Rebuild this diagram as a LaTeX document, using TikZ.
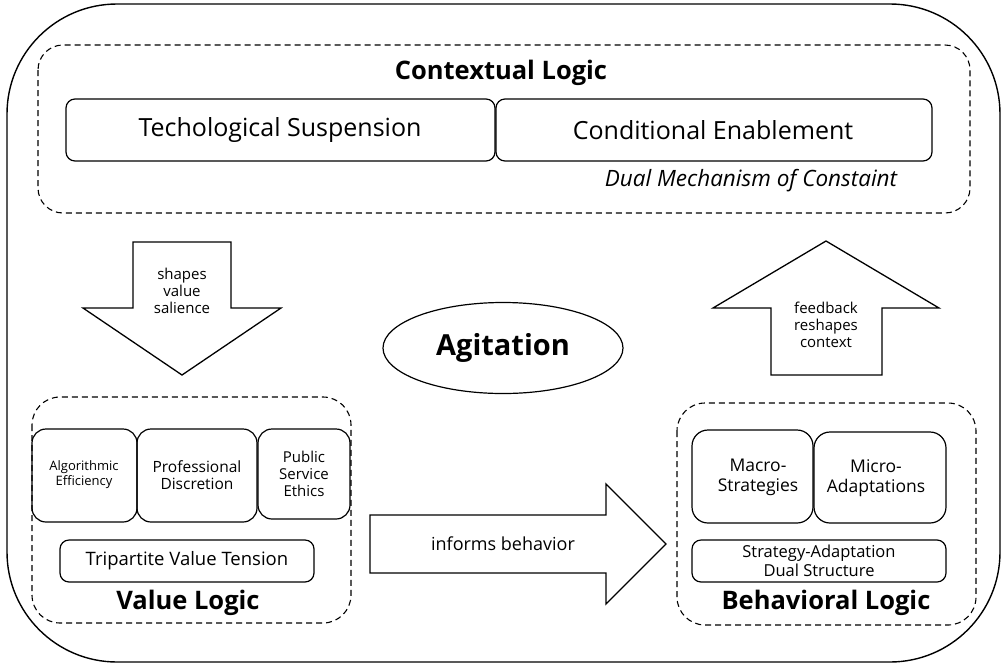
\documentclass[tikz,border=0pt]{standalone}
\usepackage{fontspec}
\setmainfont{Open Sans}
\usetikzlibrary{shapes.geometric}
\begin{document}
\begin{tikzpicture}[x=1pt,y=-1pt,
  box/.style={draw,line width=1.2pt,rounded corners=9pt},
  grp/.style={draw,line width=1.1pt,dash pattern=on 6pt off 4pt,rounded corners=28pt},
  bigarrow/.style={draw,line width=1.3pt,fill=white,line join=miter},
  lbl/.style={align=center,inner sep=0pt,font=\fontsize{15}{17}\selectfont}
]
\useasboundingbox (0,0) rectangle (1001,665);
% outer
\draw[line width=1.4pt,rounded corners=110pt] (7,4) rectangle (1000,662);
% contextual group
\draw[grp,rounded corners=25pt] (38,45) rectangle (970,213);
\node[font=\fontsize{25.5}{30}\selectfont\bfseries] (ctx) at (501,73) {Contextual Logic};
\draw[box] (66,99) rectangle (495,161);
\node[font=\fontsize{25}{30}\selectfont] (tech) at (280,130) {Techological Suspension};
\draw[box] (496,99) rectangle (932,161);
\node[font=\fontsize{25}{30}\selectfont] (cond) at (713,130) {Conditional Enablement};
\node[font=\fontsize{22.5}{27}\selectfont\itshape] (dual) at (751,181) {Dual Mechanism of Constaint};
% down arrow
\draw[bigarrow] (133,242) -- (231,242) -- (231,308) -- (281,308) -- (182,375) -- (83,308) -- (133,308) -- cycle;
\node[lbl] (shapes) at (182,291) {shapes\\value\\salience};
% agitation
\node[draw,ellipse,line width=1.2pt,minimum width=240pt,minimum height=91pt,font=\fontsize{29}{34}\selectfont\bfseries] (agit) at (503,348) {Agitation};
% up arrow
\draw[bigarrow] (771,375) -- (882,375) -- (882,308) -- (939,308) -- (826,241) -- (713,308) -- (771,308) -- cycle;
\node[lbl] (fb) at (826,325) {feedback\\reshapes\\context};
% right arrow
\draw[bigarrow] (370,515) -- (606,515) -- (606,484) -- (666,544) -- (606,604) -- (606,573) -- (370,573) -- cycle;
\node[lbl,font=\fontsize{18}{21}\selectfont] (inf) at (503,544) {informs behavior};
% value logic
\draw[grp] (32,397) rectangle (351,623);
\draw[box,rounded corners=14pt] (32,429) rectangle (137,522);
\node[lbl,font=\fontsize{13}{15}\selectfont] (alg) at (84,475) {Algorithmic\\Efficiency};
\draw[box,rounded corners=14pt] (137,429) rectangle (257,522);
\node[lbl,font=\fontsize{15.5}{17.5}\selectfont] (prof) at (197,475) {Professional\\Discretion};
\draw[box,rounded corners=14pt] (258,429) rectangle (350,519);
\node[lbl] (pub) at (304,474) {Public\\Service\\Ethics};
\draw[box] (60,540) rectangle (314,582);
\node[lbl,font=\fontsize{18.5}{21}\selectfont] (tri) at (187,561) {Tripartite Value Tension};
\node[font=\fontsize{25.5}{30}\selectfont\bfseries] (vl) at (188,603) {Value Logic};
% behavioral logic
\draw[grp] (677,403) rectangle (976,625);
\draw[box,rounded corners=16pt] (692,430) rectangle (813,523);
\node[lbl,font=\fontsize{17.5}{20}\selectfont] (macro) at (758,477) {Macro-\\Strategies};
\draw[box,rounded corners=16pt] (814,432) rectangle (946,523);
\node[lbl,font=\fontsize{17.5}{20}\selectfont] (micro) at (876,478) {Micro-\\Adaptations};
\draw[box] (692,540) rectangle (946,582);
\node[lbl,font=\fontsize{16.5}{19.5}\selectfont] (sad) at (819,561) {Strategy-Adaptation\\Dual Structure};
\node[font=\fontsize{25.5}{30}\selectfont\bfseries] (bl) at (826,603) {Behavioral Logic};
\end{tikzpicture}
\end{document}
